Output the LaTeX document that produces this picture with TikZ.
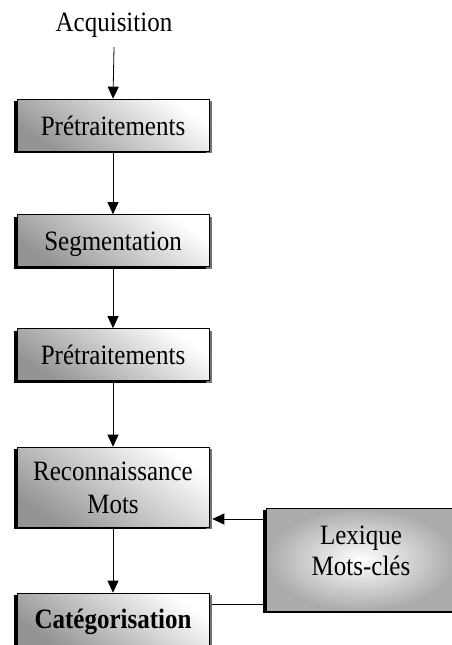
\documentclass[tikz,border=0pt]{standalone}
\usepackage{fontspec}
\usepackage{graphicx}
\setmainfont{Liberation Serif}
\usetikzlibrary{arrows.meta,shadows,calc}
% slightly tall lettering
\newcommand{\tallline}[1]{\scalebox{1}[1.12]{#1}}
\begin{document}
\begin{tikzpicture}[x=1pt,y=-1pt,
  boxshadow/.style={
    general shadow={shadow xshift=3pt,shadow yshift=-2pt,fill=black!55,shade=false,draw=none},
    general shadow={shadow xshift=-3pt,shadow yshift=-2pt,fill=black,shade=false,draw=none}},
  stepbox/.style={draw=black,line width=0.7pt,top color=white,bottom color=black!42,
    shading angle=-35,minimum width=192pt,minimum height=52pt,inner sep=0pt,
    text height=20pt,text depth=0pt,
    font=\fontsize{25}{30}\selectfont,align=center,boxshadow},
  lexbox/.style={draw=black,line width=0.7pt,inner color=white,outer color=black!33,
    minimum width=190pt,minimum height=103pt,inner sep=0pt,boxshadow},
  boxtext/.style={anchor=north,inner sep=0pt,align=center},
  arr/.style={-{Triangle[width=11pt,length=12pt]},line width=0.8pt},
  link/.style={line width=0.8pt}]
\useasboundingbox (0,0) rectangle (452,645);

% input label
\node[anchor=base,inner sep=3pt,font=\fontsize{25}{30}\selectfont] (acq) at (114,31) {\tallline{Acquisition}};

% processing chain
\node[stepbox] (pre1) at (113,125) {\tallline{Prétraitements}};
\node[stepbox] (seg) at (113,240.5) {\tallline{Segmentation}};
\node[stepbox] (pre2) at (113,354.5) {\tallline{Prétraitements}};
\node[stepbox,minimum height=80pt] (rec) at (113,487) {};
\node[boxtext,font=\fontsize{25}{33}\selectfont] (rectxt) at (113,461.5)
  {\tallline{Reconnaissance}\\\tallline{Mots}};
\node[stepbox,font=\fontsize{25}{30}\selectfont\bfseries,text height=18pt] (cat) at (113,619) {\tallline{Catégorisation}};

% keyword lexicon
\node[lexbox] (lex) at (361,559.5) {};
\node[boxtext,font=\fontsize{25}{31}\selectfont] (lextxt) at (361,525.5)
  {\tallline{Lexique}\\\tallline{Mots-clés}};

% rows of the horizontal links
\coordinate (rowA) at (0,519);
\coordinate (rowB) at (0,604);

\draw[arr] ([yshift=-7pt]acq.south) -- (pre1.north);
\draw[arr] (pre1.south) -- (seg.north);
\draw[arr] (seg.south) -- (pre2.north);
\draw[arr] (pre2.south) -- (rec.north);
\draw[arr] (rec.south) -- (cat.north);
\draw[arr] (lex.west |- rowA) -- ([xshift=3pt]rec.east |- rowA);
\draw[link] (lex.west |- rowB) -- ([xshift=3pt]cat.east |- rowB);
\end{tikzpicture}
\end{document}
